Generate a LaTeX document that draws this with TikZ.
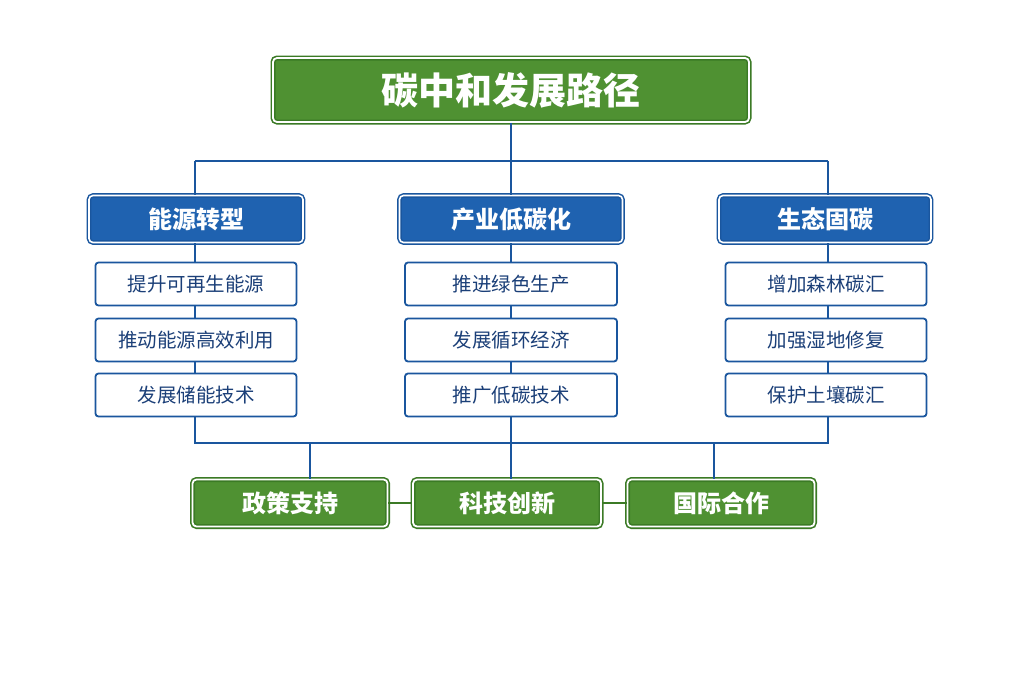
\documentclass[tikz,border=0pt]{standalone}
\usepackage{fontspec}
\setmainfont{Noto Sans CJK SC}
\begin{document}
\begin{tikzpicture}[x=1pt,y=-1pt,
  gbox/.style={rounded corners=4pt,fill=grn,draw=grnd,double=white,double distance=1.8pt,line width=1.6pt,text=white,font=\bfseries,anchor=center,inner sep=0},
  bbox/.style={rounded corners=4pt,fill=blu,draw=blud,double=white,double distance=1.6pt,line width=1.5pt,text=white,font=\bfseries\fontsize{24}{28}\selectfont,minimum height=47pt,inner sep=0},
  leaf/.style={rounded corners=3pt,fill=white,draw=blud,line width=1.8pt,text=txt,font=\fontsize{19.5}{23}\selectfont,minimum height=43pt,inner sep=0},
  ln/.style={draw=blud,line width=2.5pt}]
\definecolor{grn}{HTML}{4F9132}
\definecolor{grnd}{HTML}{3B7A25}
\definecolor{blu}{HTML}{1F62B0}
\definecolor{blud}{HTML}{1A569E}
\definecolor{txt}{HTML}{1B3F78}
\useasboundingbox (0,0) rectangle (1024,683);
\node[gbox,minimum width=476pt,minimum height=64pt,font=\bfseries\fontsize{37}{42}\selectfont] (t) at (511,90) {碳中和发展路径};
\coordinate (hl) at (195,161); \coordinate (hr) at (828,161); \coordinate (hm) at (511,161);
\node[bbox,minimum width=214pt] (a) at (196,219) {能源转型};
\node[bbox,minimum width=223pt] (b) at (511,219) {产业低碳化};
\node[bbox,minimum width=212pt] (c) at (825,219) {生态固碳};
\foreach \n/\x/\w/\i/\j/\k in {a/196/201/提升可再生能源/推动能源高效利用/发展储能技术, b/511/212/推进绿色生产/发展循环经济/推广低碳技术, c/826/201/增加森林碳汇/加强湿地修复/保护土壤碳汇}{
  \node[leaf,minimum width=\w pt] (\n1) at (\x,284) {\i};
  \node[leaf,minimum width=\w pt] (\n2) at (\x,340) {\j};
  \node[leaf,minimum width=\w pt] (\n3) at (\x,395) {\k};
}
\coordinate (bl) at (195,443); \coordinate (br) at (828,443);
\node[gbox,minimum width=195pt,minimum height=47pt,font=\bfseries\fontsize{24}{28}\selectfont] (p) at (290,503) {政策支持};
\node[gbox,minimum width=188pt,minimum height=47pt,font=\bfseries\fontsize{24}{28}\selectfont] (q) at (507,503) {科技创新};
\node[gbox,minimum width=187pt,minimum height=47pt,font=\bfseries\fontsize{24}{28}\selectfont] (r) at (721,503) {国际合作};
\draw[ln] (t.south) -- (hm);
\draw[ln] (hl) -- (hr);
\draw[ln] (hl) -- (hl |- a.north); \draw[ln] (hr) -- (hr |- c.north); \draw[ln] (hm) -- (b.north);
\foreach \n/\x in {a/195,b/511,c/828}{
  \draw[ln] (\n.south -| \x,0) -- (\n1.north -| \x,0);
  \draw[ln] (\n1.south -| \x,0) -- (\n2.north -| \x,0);
  \draw[ln] (\n2.south -| \x,0) -- (\n3.north -| \x,0);
}
\draw[ln] (a3.south -| hl) -- (bl) -- (br) -- (c3.south -| br);
\draw[ln] (b3.south) -- (b3.south |- bl);
\draw[ln] (p.north -| 310,0) -- (310,443);
\draw[ln] (q.north -| b3.south) -- (b3.south |- bl);
\draw[ln] (r.north -| 714,0) -- (714,443);
\draw[grnd,line width=2.5pt] (p.east) -- (q.west);
\draw[grnd,line width=2.5pt] (q.east) -- (r.west);
\end{tikzpicture}
\end{document}
